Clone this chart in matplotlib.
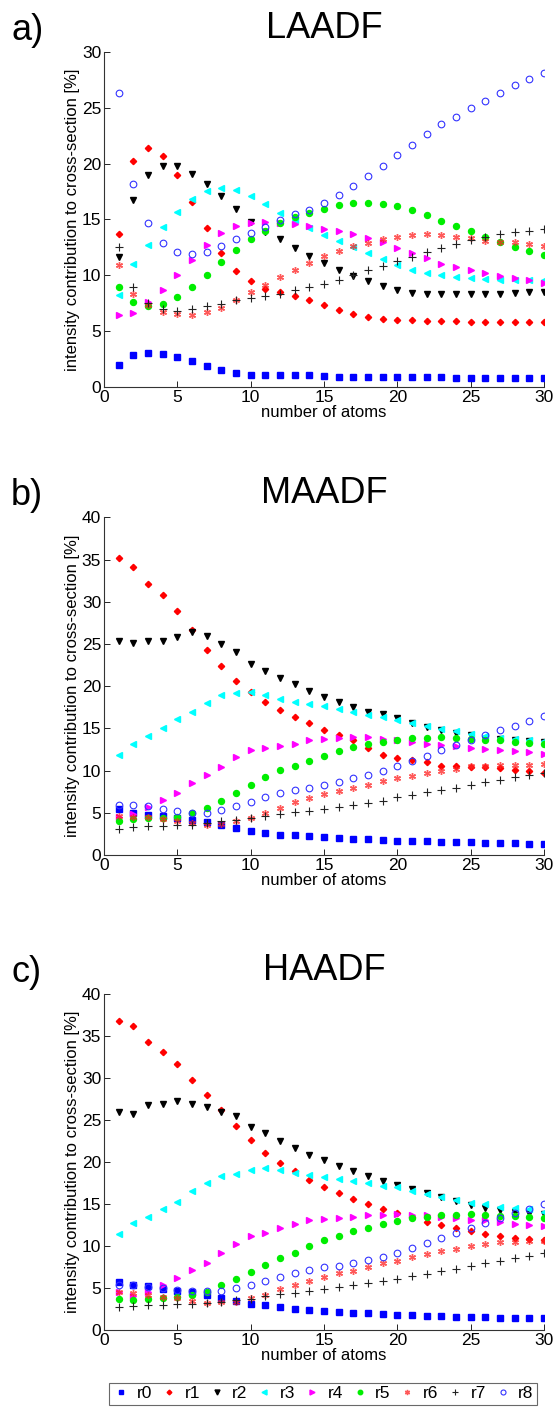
import numpy as np
from matplotlib import pyplot as plt

plt.rcParams['font.family'] = ['Liberation Sans', 'DejaVu Sans']

atoms = np.arange(1, 31)
names = ['r0', 'r1', 'r2', 'r3', 'r4', 'r5', 'r6', 'r7', 'r8']
panels = ['LAADF', 'MAADF', 'HAADF']
letters = ['a)', 'b)', 'c)']
ymax = [30, 40, 40]

# LAADF
laadf_r0 = [1.95, 2.85, 3.07, 2.95, 2.7, 2.3, 1.85, 1.5, 1.22, 1.1, 1.05, 1.05, 1.05, 1.05, 0.98,
            0.93, 0.93, 0.88, 0.88, 0.88, 0.88, 0.88, 0.88, 0.82, 0.82, 0.82, 0.82, 0.78, 0.78, 0.78]
laadf_r1 = [13.7, 20.2, 21.35, 20.7, 18.95, 16.55, 14.2, 12.0, 10.4, 9.5, 8.8, 8.5, 8.1, 7.76, 7.37,
            6.9, 6.57, 6.27, 6.1, 6.0, 6.0, 5.94, 5.94, 5.88, 5.82, 5.82, 5.82, 5.82, 5.82, 5.85]
laadf_r2 = [11.6, 16.7, 19.0, 19.8, 19.75, 19.1, 18.2, 17.1, 15.9, 14.8, 13.9, 13.2, 12.4, 11.7, 11.1,
            10.45, 9.97, 9.46, 9.04, 8.7, 8.45, 8.36, 8.3, 8.3, 8.3, 8.36, 8.36, 8.4, 8.48, 8.48]
laadf_r3 = [8.2, 11.05, 12.7, 14.35, 15.67, 16.78, 17.5, 17.8, 17.6, 17.1, 16.35, 15.6, 14.9, 14.2, 13.6,
            13.04, 12.5, 11.97, 11.46, 10.9, 10.5, 10.24, 10.0, 9.85, 9.73, 9.67, 9.6, 9.6, 9.55, 9.55]
laadf_r4 = [6.4, 6.65, 7.6, 8.7, 10.06, 11.4, 12.7, 13.8, 14.4, 14.7, 14.75, 14.7, 14.57, 14.4, 14.1,
            13.97, 13.7, 13.37, 12.96, 12.42, 12.0, 11.5, 11.04, 10.75, 10.45, 10.2, 9.94, 9.73, 9.55, 9.34]
laadf_r5 = [8.96, 7.6, 7.22, 7.46, 8.06, 8.96, 10.06, 11.2, 12.3, 13.25, 14.0, 14.7, 15.2, 15.6, 15.97,
            16.33, 16.48, 16.48, 16.36, 16.18, 15.8, 15.37, 14.87, 14.45, 13.97, 13.43, 13.0, 12.57, 12.18, 11.82]
laadf_r6 = [10.93, 8.36, 7.37, 6.72, 6.5, 6.48, 6.72, 7.1, 7.76, 8.5, 9.1, 9.85, 10.5, 11.13, 11.7,
            12.18, 12.6, 12.93, 13.2, 13.43, 13.6, 13.73, 13.6, 13.43, 13.37, 13.07, 13.0, 12.96, 12.78, 12.6]
laadf_r7 = [12.5, 8.96, 7.55, 6.96, 6.84, 7.0, 7.25, 7.46, 7.76, 7.97, 8.12, 8.36, 8.66, 8.93, 9.25,
            9.6, 10.06, 10.48, 10.87, 11.3, 11.64, 12.1, 12.48, 12.84, 13.13, 13.43, 13.67, 13.85, 13.97, 14.1]
laadf_r8 = [26.3, 18.2, 14.65, 12.9, 12.06, 11.9, 12.1, 12.6, 13.25, 13.8, 14.3, 14.9, 15.5, 15.85, 16.5,
            17.2, 18.0, 18.9, 19.8, 20.8, 21.7, 22.6, 23.5, 24.2, 25.0, 25.6, 26.3, 27.0, 27.55, 28.1]

# MAADF
maadf_r0 = [5.48, 5.0, 4.8, 4.6, 4.4, 4.2, 3.96, 3.6, 3.2, 2.8, 2.56, 2.4, 2.32, 2.2, 2.12,
            2.04, 1.96, 1.88, 1.8, 1.72, 1.68, 1.64, 1.6, 1.56, 1.52, 1.48, 1.44, 1.44, 1.36, 1.32]
maadf_r1 = [35.24, 34.1, 32.1, 30.8, 28.9, 26.6, 24.3, 22.4, 20.6, 19.3, 18.1, 17.2, 16.4, 15.7, 14.8,
            14.2, 13.65, 12.74, 11.9, 11.5, 11.3, 11.0, 10.6, 10.5, 10.45, 10.4, 10.3, 10.1, 9.92, 9.75]
maadf_r2 = [25.4, 25.1, 25.3, 25.3, 25.87, 26.47, 26.0, 25.0, 24.1, 22.6, 21.8, 20.95, 20.24, 19.44, 18.73,
            18.1, 17.5, 17.0, 16.67, 16.27, 15.67, 15.2, 14.76, 14.4, 14.17, 13.8, 13.7, 13.57, 13.5, 13.4]
maadf_r3 = [11.8, 13.1, 14.05, 15.08, 16.07, 17.0, 18.0, 19.0, 19.17, 19.3, 18.97, 18.5, 18.13, 17.9, 17.7,
            17.3, 17.0, 16.63, 16.3, 16.03, 15.63, 15.24, 14.9, 14.7, 14.3, 14.05, 13.9, 13.77, 13.6, 13.5]
maadf_r4 = [4.5, 4.85, 5.75, 6.55, 7.4, 8.5, 9.5, 10.4, 11.6, 12.4, 12.66, 12.9, 13.17, 13.57, 13.8,
            13.9, 13.93, 13.93, 13.8, 13.57, 13.37, 13.2, 13.0, 12.86, 12.7, 12.54, 12.4, 12.3, 12.2, 12.0]
maadf_r5 = [4.05, 4.25, 4.37, 4.44, 4.56, 4.96, 5.63, 6.4, 7.34, 8.33, 9.25, 10.08, 10.6, 11.15, 11.75,
            12.38, 12.8, 13.17, 13.4, 13.65, 13.85, 13.9, 13.97, 13.9, 13.8, 13.65, 13.57, 13.4, 13.25, 13.1]
maadf_r6 = [4.6, 4.56, 4.5, 4.3, 4.0, 3.76, 3.6, 3.68, 4.0, 4.37, 4.96, 5.63, 6.23, 6.75, 7.2,
            7.62, 8.0, 8.3, 8.77, 9.1, 9.4, 9.68, 9.92, 10.24, 10.6, 10.6, 10.7, 10.7, 10.7, 10.75]
maadf_r7 = [3.08, 3.36, 3.48, 3.48, 3.52, 3.6, 3.8, 4.0, 4.2, 4.4, 4.64, 4.88, 5.08, 5.26, 5.44,
            5.66, 5.9, 6.2, 6.45, 6.83, 7.14, 7.42, 7.7, 8.0, 8.3, 8.6, 8.9, 9.2, 9.5, 9.7]
maadf_r8 = [5.87, 5.87, 5.8, 5.48, 5.2, 5.04, 5.04, 5.3, 5.8, 6.3, 6.87, 7.34, 7.7, 8.0, 8.3,
            8.7, 9.1, 9.5, 10.0, 10.5, 11.15, 11.7, 12.4, 13.06, 13.65, 14.2, 14.8, 15.3, 15.87, 16.47]

# HAADF
haadf_r0 = [5.7, 5.37, 5.2, 4.88, 4.67, 4.47, 4.19, 3.78, 3.46, 3.13, 2.93, 2.68, 2.48, 2.36, 2.28,
            2.15, 2.07, 2.0, 1.91, 1.83, 1.75, 1.71, 1.63, 1.59, 1.55, 1.5, 1.46, 1.42, 1.38, 1.38]
haadf_r1 = [36.8, 36.2, 34.3, 33.1, 31.65, 29.8, 28.0, 26.24, 24.25, 22.6, 21.1, 19.9, 18.9, 17.9, 17.05,
            16.3, 15.6, 15.0, 14.4, 13.9, 13.4, 12.9, 12.5, 12.13, 11.77, 11.45, 11.2, 10.95, 10.8, 10.7]
haadf_r2 = [25.9, 25.7, 26.76, 26.96, 27.24, 26.88, 26.56, 25.9, 25.45, 24.17, 23.5, 22.55, 21.7, 20.87, 20.2,
            19.56, 18.93, 18.33, 17.8, 17.26, 16.8, 16.3, 15.83, 15.35, 14.9, 14.55, 14.23, 14.04, 13.96, 13.84]
haadf_r3 = [11.45, 12.76, 13.4, 14.4, 15.3, 16.58, 17.53, 18.37, 18.6, 19.05, 19.28, 19.05, 18.7, 18.45, 18.2,
            17.97, 17.8, 17.5, 17.18, 17.0, 16.58, 16.22, 15.8, 15.43, 15.15, 14.95, 14.63, 14.47, 14.4, 14.04]
haadf_r4 = [4.5, 4.1, 4.5, 5.4, 6.16, 7.1, 8.0, 9.15, 10.26, 11.17, 11.53, 12.1, 12.6, 13.08, 13.16,
            13.3, 13.44, 13.67, 13.7, 13.84, 13.7, 13.64, 13.44, 13.28, 13.12, 13.04, 12.8, 12.64, 12.48, 12.33]
haadf_r5 = [3.7, 3.62, 3.7, 3.82, 3.94, 4.18, 4.5, 5.37, 6.04, 6.88, 7.7, 8.6, 9.2, 9.98, 10.66,
            11.25, 11.8, 12.2, 12.65, 12.96, 13.32, 13.44, 13.64, 13.72, 13.76, 13.72, 13.6, 13.52, 13.44, 13.36]
haadf_r6 = [4.47, 4.35, 4.19, 3.98, 3.86, 3.46, 3.25, 3.33, 3.37, 3.86, 4.19, 4.85, 5.37, 5.87, 6.36,
            6.76, 7.08, 7.56, 7.95, 8.27, 8.67, 8.99, 9.38, 9.7, 10.02, 10.22, 10.42, 10.46, 10.55, 10.6]
haadf_r7 = [2.72, 2.89, 2.97, 3.0, 3.05, 3.13, 3.2, 3.37, 3.54, 3.7, 4.1, 4.23, 4.39, 4.66, 4.87,
            5.15, 5.3, 5.57, 5.8, 6.08, 6.4, 6.68, 7.0, 7.27, 7.6, 7.99, 8.27, 8.63, 8.87, 9.15]
haadf_r8 = [5.4, 5.3, 5.17, 5.05, 4.77, 4.6, 4.6, 4.7, 5.0, 5.4, 5.85, 6.3, 6.8, 7.16, 7.48,
            7.67, 7.95, 8.35, 8.7, 9.2, 9.8, 10.34, 10.97, 11.57, 12.17, 12.72, 13.36, 13.92, 14.4, 15.0]

laadf = [laadf_r0, laadf_r1, laadf_r2, laadf_r3, laadf_r4, laadf_r5, laadf_r6, laadf_r7, laadf_r8]
maadf = [maadf_r0, maadf_r1, maadf_r2, maadf_r3, maadf_r4, maadf_r5, maadf_r6, maadf_r7, maadf_r8]
haadf = [haadf_r0, haadf_r1, haadf_r2, haadf_r3, haadf_r4, haadf_r5, haadf_r6, haadf_r7, haadf_r8]
all_data = [laadf, maadf, haadf]

# marker styles for r0..r8
styles = [
    dict(marker='s', color='#0000ff', ms=4.3),
    dict(marker='D', color='#ff0000', ms=3.2),
    dict(marker='v', color='#000000', ms=4.8),
    dict(marker='<', color='#00ffff', ms=4.8),
    dict(marker='>', color='#ff00ff', ms=4.8),
    dict(marker='o', color='#00ee00', ms=4.3),
    dict(marker=(6, 2, 0), color='#ff2222', ms=5, mew=1.0, alpha=0.75),
    dict(marker='+', color='#222222', ms=5.5, mew=0.8),
    dict(marker='o', color='#3333ff', ms=4.8, mfc='none', mew=0.8),
]

fig = plt.figure(figsize=(5.57, 14.14), dpi=100)
ax_rects = [[0.1867, 0.7263, 0.79, 0.2371],
            [0.1867, 0.3953, 0.79, 0.2388],
            [0.1867, 0.0594, 0.79, 0.2376]]

for p in range(3):
    ax = fig.add_axes(ax_rects[p])
    for k in range(9):
        ax.plot(atoms, all_data[p][k], ls='none', label=names[k], **styles[k])
    ax.set_xlim(0, 30)
    ax.set_ylim(0, ymax[p])
    ax.set_xticks(np.arange(0, 31, 5))
    ax.set_yticks(np.arange(0, ymax[p] + 1, 5))
    ax.tick_params(direction='in', labelsize=12.5, length=4, width=0.6, pad=2)
    ax.spines['top'].set_visible(False)
    ax.spines['right'].set_visible(False)
    for s in ['left', 'bottom']:
        ax.spines[s].set_linewidth(0.8)
        ax.spines[s].set_color('#333333')
    ax.set_xlabel('number of atoms', fontsize=12, labelpad=0)
    ax.set_ylabel('intensity contribution to cross-section [%]', fontsize=12, labelpad=1)
    ax.set_title(panels[p], fontsize=26, pad=10)
    top = ax_rects[p][1] + ax_rects[p][3]
    fig.text(0.02, top + 0.003, letters[p], fontsize=26, ha='left', va='bottom')
    if p == 2:
        handles, labels = ax.get_legend_handles_labels()

leg = fig.legend(handles, labels, loc='lower left', bbox_to_anchor=(0.18, 0.0005, 0.8, 0.014),
                 mode='expand', ncol=9, fontsize=12.5, frameon=True, fancybox=False,
                 borderpad=0.2, handlelength=1.0, handletextpad=0.4, columnspacing=0.5,
                 markerscale=0.75)
leg.get_frame().set_edgecolor('#444444')
leg.get_frame().set_linewidth(0.8)

plt.savefig('out.png', dpi=100)
